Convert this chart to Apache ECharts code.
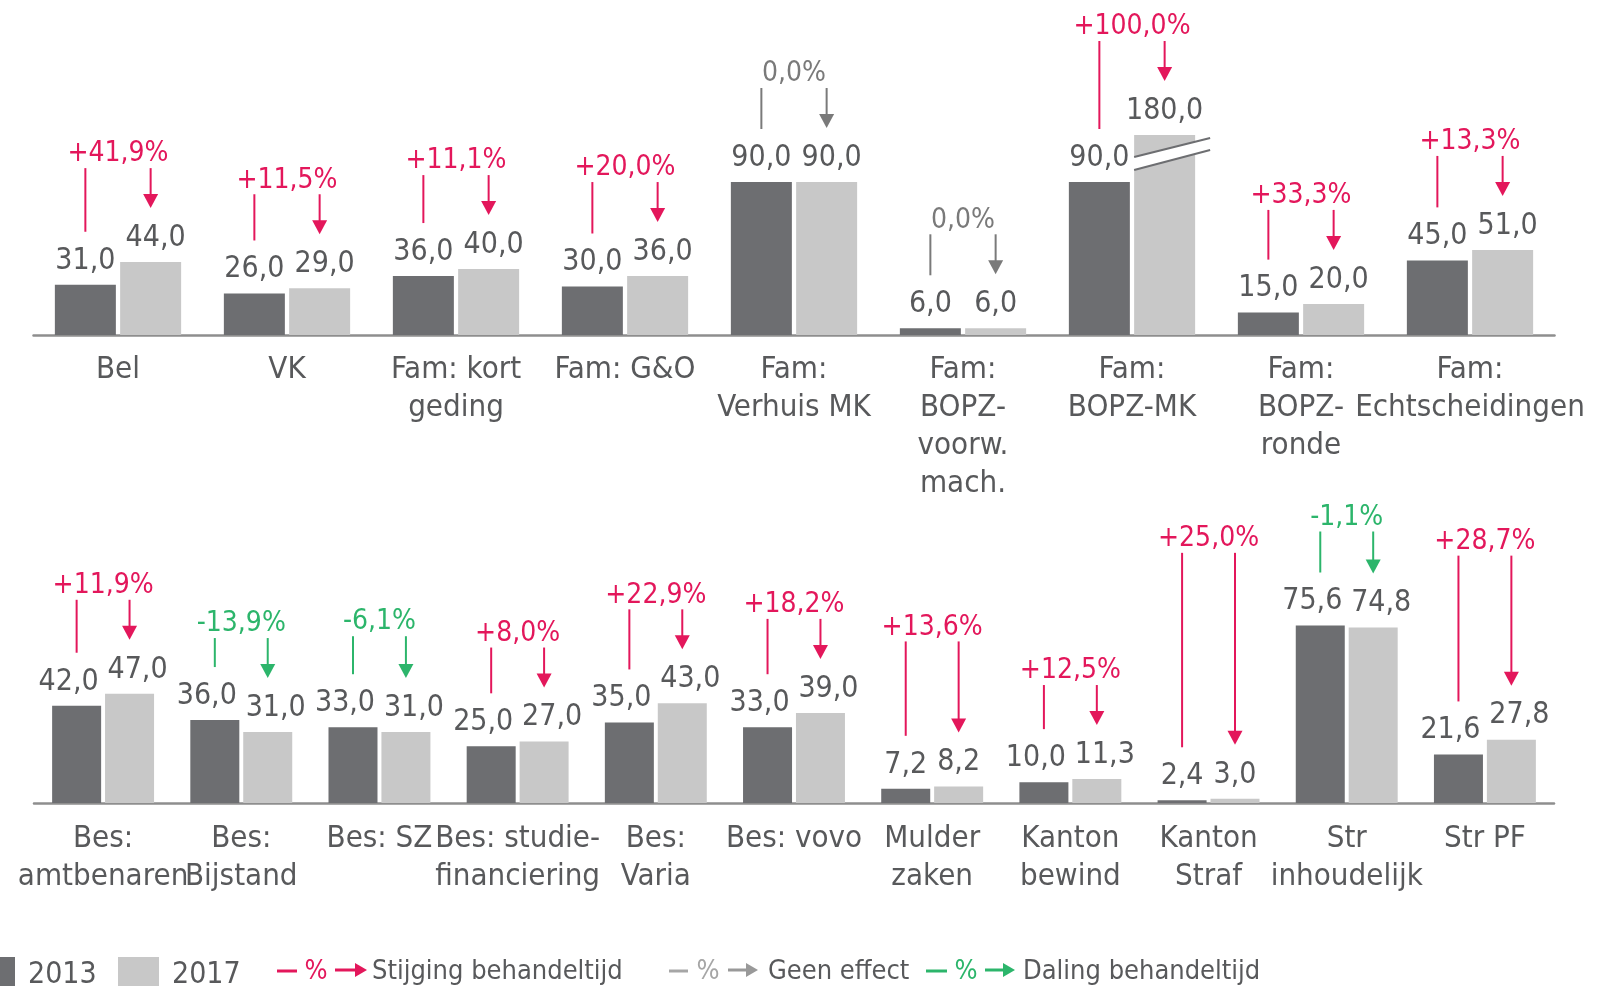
<!DOCTYPE html>
<html>
<head>
<meta charset="utf-8">
<script src="https://cdn.jsdelivr.net/npm/echarts@6/dist/echarts.min.js"></script>
<style>
  html, body { margin: 0; padding: 0; background: #ffffff; }
  #chart { width: 1606px; height: 986px; }
</style>
</head>
<body>
<div id="chart"></div>
<script>
// ---- Data: doorlooptijden 2013 vs 2017 ----
const topCategories = ['Bel', 'VK', 'Fam: kort\ngeding', 'Fam: G&O', 'Fam:\nVerhuis MK',
  'Fam:\nBOPZ-\nvoorw.\nmach.', 'Fam:\nBOPZ-MK', 'Fam:\nBOPZ-\nronde', 'Fam:\nEchtscheidingen'];
const top2013 = [31.0, 26.0, 36.0, 30.0, 90.0, 6.0, 90.0, 15.0, 45.0];
const top2017 = [44.0, 29.0, 40.0, 36.0, 90.0, 6.0, 180.0, 20.0, 51.0];
const topChange = [41.9, 11.5, 11.1, 20.0, 0.0, 0.0, 100.0, 33.3, 13.3];

const bottomCategories = ['Bes:\namtbenaren', 'Bes:\nBijstand', 'Bes: SZ', 'Bes: studie-\nfinanciering',
  'Bes:\nVaria', 'Bes: vovo', 'Mulder\nzaken', 'Kanton\nbewind', 'Kanton\nStraf', 'Str\ninhoudelijk', 'Str PF'];
const bottom2013 = [42.0, 36.0, 33.0, 25.0, 35.0, 33.0, 7.2, 10.0, 2.4, 75.6, 21.6];
const bottom2017 = [47.0, 31.0, 31.0, 27.0, 43.0, 39.0, 8.2, 11.3, 3.0, 74.8, 27.8];
const bottomChange = [11.9, -13.9, -6.1, 8.0, 22.9, 18.2, 13.6, 12.5, 25.0, -1.1, 28.7];

const seriesNames = ['2013', '2017'];

// ---- Layout: extra lift (px) of the change labels above the default height ----
const topRaise = [0, 0, 0, 0, 0, 0, 0, 0, 0];
const bottomRaise = [0, -12, -3, 0, 0, 0, 51, 0, 152, 0, 90];

// ---- Styling ----
const FONT = "'DejaVu Sans Condensed', 'DejaVu Sans', sans-serif";
const TEXT = '#58595b';
const DARK = '#6d6e71';
const LIGHT = '#c8c8c8';
const UP = '#e3175b';
const DOWN = '#2cb56b';
const FLAT = '#7a7a7a';
const AXIS = '#8e8e8e';

const fmtVal = v => v.toFixed(1).replace('.', ',');
const fmtPct = p => (p > 0 ? '+' : '') + p.toFixed(1).replace('.', ',') + '%';
const changeColor = p => (p > 0 ? UP : (p < 0 ? DOWN : FLAT));

const rows = [
  {
    cats: topCategories, v13: top2013, v17: top2017, chg: topChange, raise: topRaise,
    grid: { left: 33.5, right: 51.5, top: 135, bottom: 651 },
    yMin: 2.15, yMax: 117, barWidth: 61, barGap: 0.07, labelMargin: 16, spread: 'right'
  },
  {
    cats: bottomCategories, v13: bottom2013, v17: bottom2017, chg: bottomChange, raise: bottomRaise,
    grid: { left: 34, right: 52, top: 615, bottom: 183 },
    yMin: 1.26, yMax: 80, barWidth: 49, barGap: 0.08, labelMargin: 17, spread: 'both'
  }
];

// Push neighbouring value labels apart where they would collide.
function labelShifts(row) {
  const h = 986 - row.grid.top - row.grid.bottom;
  const scale = h / (row.yMax - row.yMin);
  const d13 = [], d17 = [];
  row.v13.forEach((a, i) => {
    const b = row.v17[i];
    const long = fmtVal(a).length >= 4 && fmtVal(b).length >= 4;
    const near = Math.abs(Math.min(a, row.yMax) - Math.min(b, row.yMax)) * scale < 30;
    if (row.spread === 'both') {
      d13.push(long ? -8 : 0); d17.push(long ? 8 : 0);
    } else {
      d13.push(0); d17.push(long && near ? 5 : 0);
    }
  });
  return [d13, d17];
}

// Change label, connector line and arrow above every pair of bars.
function makeAnnotations(row) {
  const gapPx = row.barWidth * row.barGap;
  const half = (row.barWidth + gapPx) / 2;
  return function (params, api) {
    const i = params.dataIndex;
    const cx = api.coord([i, row.yMin])[0];
    const topOf = v => api.coord([i, Math.min(v, row.yMax)])[1];
    const t13 = topOf(row.v13[i]);
    const t17 = topOf(row.v17[i]);
    const x13 = cx - half;
    const x17 = cx + half;
    const col = changeColor(row.chg[i]);
    const labelY = Math.min(t13, t17) - 110 - row.raise[i];
    const start = labelY + 16;
    const tip = t17 - 54;
    const children = [
      {
        type: 'text',
        style: {
          text: fmtPct(row.chg[i]), x: cx, y: labelY + 2, align: 'center', verticalAlign: 'middle',
          fill: col, fontSize: 28, fontFamily: FONT
        }
      },
      { type: 'line', shape: { x1: x13, y1: start, x2: x13, y2: t13 - 53 }, style: { stroke: col, lineWidth: 2 } },
      { type: 'line', shape: { x1: x17, y1: start, x2: x17, y2: tip - 12 }, style: { stroke: col, lineWidth: 2 } },
      {
        type: 'polygon',
        shape: { points: [[x17 - 7.5, tip - 14], [x17 + 7.5, tip - 14], [x17, tip]] },
        style: { fill: col }
      }
    ];
    // Axis break on bars taller than the visible range
    [[row.v13[i], x13], [row.v17[i], x17]].forEach(([v, x]) => {
      if (v > row.yMax) {
        const t = topOf(v);
        const l = x - row.barWidth / 2;
        const r = x + row.barWidth / 2 + 15;
        children.push({
          type: 'polygon',
          shape: { points: [[l - 1, t + 22], [r, t + 3], [r, t + 15], [l - 1, t + 35]] },
          style: { fill: '#ffffff' }
        });
        children.push({ type: 'line', shape: { x1: l, y1: t + 22, x2: r, y2: t + 3 }, style: { stroke: DARK, lineWidth: 2 } });
        children.push({ type: 'line', shape: { x1: l, y1: t + 35, x2: r, y2: t + 15 }, style: { stroke: DARK, lineWidth: 2 } });
      }
    });
    return { type: 'group', children };
  };
}

const grids = [], xAxes = [], yAxes = [], series = [];
rows.forEach((row, k) => {
  grids.push(Object.assign({ outerBoundsMode: 'none', containLabel: false }, row.grid));
  xAxes.push({
    gridIndex: k, type: 'category', data: row.cats,
    axisTick: { show: false },
    axisLine: { onZero: false, lineStyle: { color: AXIS, width: 2.5 } },
    axisLabel: {
      interval: 0, hideOverlap: false, margin: row.labelMargin,
      fontSize: 31, lineHeight: 38, color: TEXT, fontFamily: FONT
    }
  });
  yAxes.push({ gridIndex: k, type: 'value', min: row.yMin, max: row.yMax, show: false, splitLine: { show: false } });

  const shifts = labelShifts(row);
  [row.v13, row.v17].forEach((vals, s) => {
    series.push({
      type: 'bar', name: seriesNames[s], xAxisIndex: k, yAxisIndex: k,
      barWidth: row.barWidth, barGap: (row.barGap * 100) + '%',
      clip: true,
      itemStyle: { color: s === 0 ? DARK : LIGHT },
      label: {
        show: true, position: 'top', distance: 9,
        fontSize: 30, fontFamily: FONT, color: TEXT,
        formatter: p => fmtVal(p.value)
      },
      data: vals.map((v, i) => ({ value: v, label: { offset: [shifts[s][i], 0] } }))
    });
  });
  series.push({
    type: 'custom', xAxisIndex: k, yAxisIndex: k, clip: false, z: 5, silent: true,
    encode: { x: 0, y: [1, 2] },
    data: row.cats.map((c, i) => [i, row.v13[i], row.v17[i]]),
    renderItem: makeAnnotations(row)
  });
});

// ---- Legend ----
function legendKey(dash, pctX, arrow, textX, color, arrowColor, label) {
  const y = 970;
  return [
    { type: 'line', shape: { x1: dash[0], y1: y + 1, x2: dash[1], y2: y + 1 }, style: { stroke: color, lineWidth: 3 } },
    {
      type: 'text', x: pctX, y: y + 2,
      style: { text: '%', fill: color, fontSize: 27, fontFamily: FONT, align: 'center', verticalAlign: 'middle' }
    },
    { type: 'line', shape: { x1: arrow[0], y1: y, x2: arrow[1] - 10, y2: y }, style: { stroke: arrowColor, lineWidth: 3 } },
    {
      type: 'polygon',
      shape: { points: [[arrow[1] - 12, y - 7], [arrow[1], y], [arrow[1] - 12, y + 7]] },
      style: { fill: arrowColor }
    },
    {
      type: 'text', x: textX, y: y + 2,
      style: { text: label, fill: TEXT, fontSize: 27, fontFamily: FONT, align: 'left', verticalAlign: 'middle' }
    }
  ];
}

const legend = [
  { type: 'rect', shape: { x: -26, y: 957, width: 41, height: 41 }, style: { fill: DARK } },
  { type: 'text', x: 28, y: 975, style: { text: seriesNames[0], fill: TEXT, fontSize: 30, fontFamily: FONT, verticalAlign: 'middle' } },
  { type: 'rect', shape: { x: 118, y: 957, width: 41, height: 41 }, style: { fill: LIGHT } },
  { type: 'text', x: 172, y: 975, style: { text: seriesNames[1], fill: TEXT, fontSize: 30, fontFamily: FONT, verticalAlign: 'middle' } }
].concat(
  legendKey([277, 297], 316, [335, 367], 372, UP, UP, 'Stijging behandeltijd'),
  legendKey([669, 688], 708, [728, 758], 768, '#a6a6a6', '#999999', 'Geen effect'),
  legendKey([926, 947], 966, [985, 1015], 1023, DOWN, DOWN, 'Daling behandeltijd')
);

const chart = echarts.init(document.getElementById('chart'), null, { renderer: 'canvas' });
chart.setOption({
  animation: false,
  backgroundColor: '#ffffff',
  grid: grids,
  xAxis: xAxes,
  yAxis: yAxes,
  series: series,
  graphic: { elements: legend }
});
</script>
</body>
</html>
